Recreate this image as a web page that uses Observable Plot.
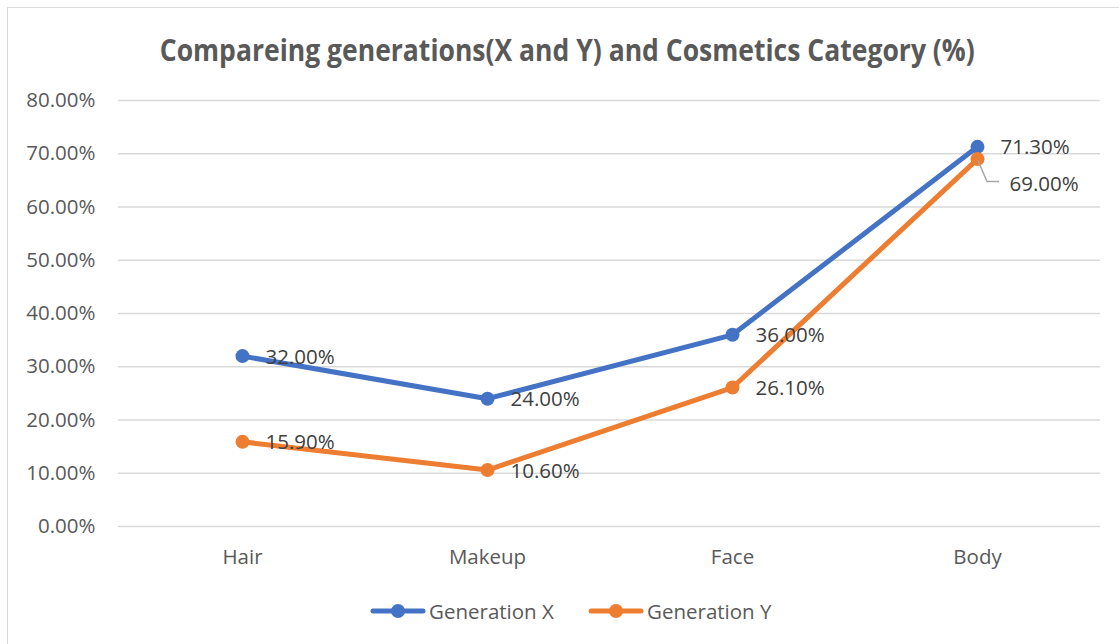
<!DOCTYPE html>
<html>
<head>
<meta charset="utf-8">
<script src="https://cdn.jsdelivr.net/npm/d3@7"></script>
<script src="https://cdn.jsdelivr.net/npm/@observablehq/plot@0.6"></script>
<style>
  html, body { margin: 0; padding: 0; background: #fff; }
  body { width: 1119px; height: 644px; position: relative; overflow: hidden; font-family: "Open Sans", sans-serif; }
  #frame { position: absolute; left: 7px; top: 7px; width: 1200px; height: 700px; border: 1.5px solid #D9D9D9; box-sizing: border-box; }
  #title { position: absolute; top: 28px; left: 0; width: 1119px; text-align: center; }
  #title span { display: inline-block; font-family: "Liberation Sans Narrow", "Open Sans", sans-serif; font-weight: bold; font-size: 31px; color: #595959; white-space: nowrap; transform-origin: center; }
  #chart { position: absolute; left: 0; top: 0; }
  #legend { position: absolute; top: 596px; left: 0; width: 1119px; height: 30px; }
  .item { position: absolute; top: 0; display: flex; align-items: center; height: 30px; font-size: 20.5px; color: #595959; }
  .item svg { margin-right: 3px; }
</style>
</head>
<body>
<div id="frame"></div>
<div id="title"><span id="titleText">Compareing generations(X and Y) and Cosmetics Category (%)</span></div>
<div id="chart"></div>
<div id="legend"></div>
<script>
const categories = ["Hair", "Makeup", "Face", "Body"];
const genX = [0.32, 0.24, 0.36, 0.713];
const genY = [0.159, 0.106, 0.261, 0.69];
const seriesNames = ["Generation X", "Generation Y"];
const seriesColors = ["#4472C4", "#ED7D31"];
const yTicks = [0, 0.1, 0.2, 0.3, 0.4, 0.5, 0.6, 0.7, 0.8];

const rows = [];
categories.forEach((c, i) => {
  rows.push({cat: c, series: seriesNames[0], v: genX[i]});
  rows.push({cat: c, series: seriesNames[1], v: genY[i]});
});
const fmt = v => (v * 100).toFixed(2) + "%";

const labelRows = rows.map(r => ({...r, shifted: r.cat === "Body" && r.series === "Generation Y"}));

const FS = 20.5;
const chart = Plot.plot({
  width: 1119,
  height: 580,
  marginTop: 100,
  marginBottom: 54,
  marginLeft: 118,
  marginRight: 19,
  style: {fontFamily: "'Open Sans', sans-serif", fontSize: FS + "px", background: "transparent", overflow: "visible"},
  x: {type: "point", domain: categories, padding: 0.5, label: null},
  y: {domain: [0, 0.8], label: null},
  color: {domain: seriesNames, range: seriesColors},
  marks: [
    Plot.gridY(yTicks, {stroke: "#D9D9D9", strokeOpacity: 1, strokeWidth: 1.5}),
    Plot.axisY(yTicks, {tickSize: 0, tickPadding: 23, tickFormat: fmt, fill: "#595959", fontSize: FS, label: null}),
    Plot.axisX({tickSize: 0, tickPadding: 23, fill: "#595959", fontSize: FS, label: null}),
    Plot.line(rows, {x: "cat", y: "v", z: "series", stroke: "series", strokeWidth: 5, strokeLinejoin: "round"}),
    Plot.dot(rows, {x: "cat", y: "v", fill: "series", r: 7}),
    Plot.dot(labelRows.filter(d => d.shifted), {
      x: "cat", y: "v",
      render: (index, scales, values, dims, context) => {
        const g = d3.create("svg:g");
        for (const i of index) {
          const px = values.x[i], py = values.y[i];
          g.append("path")
            .attr("d", `M${px + 1},${py + 2}L${px + 10},${py + 23}L${px + 22},${py + 23}`)
            .attr("fill", "none").attr("stroke", "#A6A6A6").attr("stroke-width", 1.5);
        }
        return g.node();
      }
    }),
    Plot.text(labelRows.filter(d => !d.shifted), {x: "cat", y: "v", text: d => fmt(d.v), textAnchor: "start", dx: 23, dy: 1, fill: "#404040", fontSize: FS}),
    Plot.text(labelRows.filter(d => d.shifted), {x: "cat", y: "v", text: d => fmt(d.v), textAnchor: "start", dx: 32, dy: 25, fill: "#404040", fontSize: FS})
  ]
});
document.getElementById("chart").appendChild(chart);

const t = document.getElementById("titleText");
const w = t.getBoundingClientRect().width;
t.style.transform = `translateX(8px) scaleX(${815 / w})`;

const legend = document.getElementById("legend");
const legendX = [370, 588];
seriesNames.forEach((name, i) => {
  const item = document.createElement("div");
  item.className = "item";
  item.style.left = legendX[i] + "px";
  item.innerHTML = `<svg width="56" height="20"><line x1="3" y1="10" x2="53" y2="10" stroke="${seriesColors[i]}" stroke-width="5" stroke-linecap="round"/><circle cx="28" cy="10" r="7" fill="${seriesColors[i]}"/></svg><span>${name}</span>`;
  legend.appendChild(item);
});
</script>
</body>
</html>
